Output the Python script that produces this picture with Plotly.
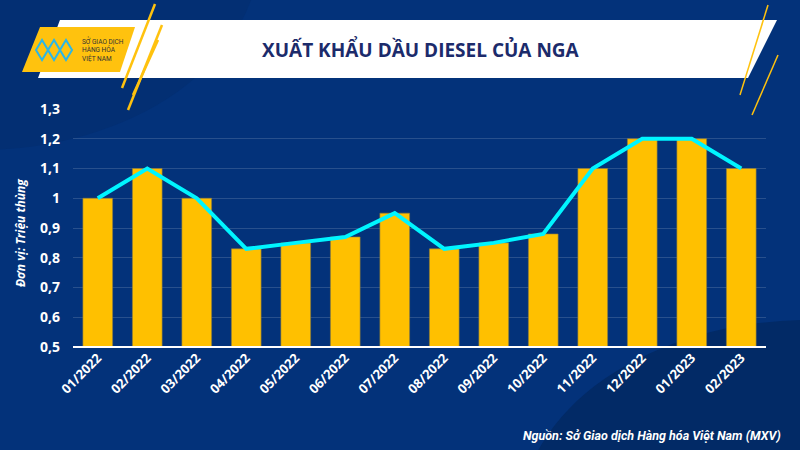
import plotly.graph_objects as go

# du lieu
thang = ["01/2022", "02/2022", "03/2022", "04/2022", "05/2022", "06/2022", "07/2022",
         "08/2022", "09/2022", "10/2022", "11/2022", "12/2022", "01/2023", "02/2023"]
xuat_khau = [1.0, 1.1, 1.0, 0.83, 0.85, 0.87, 0.95, 0.83, 0.85, 0.88, 1.1, 1.2, 1.2, 1.1]
y_ticks = [0.5, 0.6, 0.7, 0.8, 0.9, 1.0, 1.1, 1.2, 1.3]

W, H = 800, 450
L, R, T, B = 73, 34, 109, 103


def px_x(x):
    return (x - L) / (W - L - R)


def px_y(y):
    return 1 - (y - T) / (H - T - B)


def poly(points):
    path = "M " + " L ".join(f"{px_x(a):.4f},{px_y(b):.4f}" for a, b in points) + " Z"
    return path


fig = go.Figure()
fig.add_trace(go.Bar(x=thang, y=xuat_khau, marker=dict(color="#FFC000", line=dict(color="#8a7a40", width=0.6)),
                     showlegend=False, hoverinfo="skip"))
fig.add_trace(go.Scatter(x=thang, y=xuat_khau, mode="lines", line=dict(color="#00F5FF", width=4),
                         showlegend=False))

shapes = []
# nen trang tri
shapes.append(dict(type="circle", xref="paper", yref="paper", layer="below",
                   x0=px_x(520), x1=px_x(1100), y0=px_y(720), y1=px_y(320),
                   fillcolor="#022a66", line=dict(width=0)))
shapes.append(dict(type="circle", xref="paper", yref="paper", layer="below",
                   x0=px_x(-300), x1=px_x(260), y0=px_y(150), y1=px_y(-250),
                   fillcolor="#032f73", line=dict(width=0)))
# banner trang
shapes.append(dict(type="path", xref="paper", yref="paper", path=poly([(38, 78), (60, 20), (777, 20), (748, 78)]),
                   fillcolor="white", line=dict(width=0)))
# o logo vang
shapes.append(dict(type="path", xref="paper", yref="paper", path=poly([(22, 72), (40, 27), (135, 27), (120, 72)]),
                   fillcolor="#FFC20E", line=dict(width=0)))
# cac vach vang
for (a, b) in [((155, 4), (122, 88)), ((162, 25), (128, 110)), ((158, 40), (133, 95))]:
    shapes.append(dict(type="line", xref="paper", yref="paper", x0=px_x(a[0]), y0=px_y(a[1]),
                       x1=px_x(b[0]), y1=px_y(b[1]), line=dict(color="#FFC20E", width=2.5)))
for (a, b) in [((768, 5), (740, 95)), ((778, 55), (752, 115))]:
    shapes.append(dict(type="line", xref="paper", yref="paper", x0=px_x(a[0]), y0=px_y(a[1]),
                       x1=px_x(b[0]), y1=px_y(b[1]), line=dict(color="#FFC20E", width=1.5)))
# logo bieu tuong
for i in range(3):
    shapes.append(dict(type="path", xref="paper", yref="paper",
                       path=poly([(36 + i * 12, 50), (42 + i * 12, 40), (48 + i * 12, 50), (42 + i * 12, 60)]),
                       fillcolor="rgba(0,0,0,0)", line=dict(color="#2ab6e8", width=2)))
# duong truc 0,5
shapes.append(dict(type="line", xref="paper", yref="paper", x0=0, x1=1, y0=0, y1=0,
                   line=dict(color="white", width=2)))

annotations = [
    dict(text="<b>XUẤT KHẨU DẦU DIESEL CỦA NGA</b>", x=px_x(421), y=px_y(49),
         font=dict(family="Open Sans", size=19, color="#1c2b6b")),
    dict(text="SỞ GIAO DỊCH<br>HÀNG HÓA<br>VIỆT NAM", x=px_x(80), y=px_y(49), xanchor="left", align="left",
         font=dict(family="Roboto", size=6.5, color="#333")),
    dict(text="<b><i>Đơn vị: Triệu thùng</i></b>", x=px_x(20), y=px_y(233), textangle=-90,
         font=dict(family="Open Sans", size=12, color="white")),
    dict(text="<b><i>Nguồn: Sở Giao dịch Hàng hóa Việt Nam (MXV)</i></b>", x=px_x(783), y=px_y(435),
         xanchor="right", font=dict(family="Roboto", size=12.5, color="white")),
]
for a in annotations:
    a.update(xref="paper", yref="paper", showarrow=False, yanchor="middle")
    a.setdefault("xanchor", "center")

fig.update_layout(
    width=W, height=H,
    margin=dict(l=L, r=R, t=T, b=B),
    paper_bgcolor="#03327a",
    plot_bgcolor="rgba(0,0,0,0)",
    separators=",.",
    bargap=0.4,
    shapes=shapes,
    annotations=annotations,
    xaxis=dict(tickangle=-45, tickfont=dict(family="Open Sans", size=13, color="white", weight="bold"),
               showgrid=False, ticks="", showline=False),
    yaxis=dict(range=[0.5, 1.3], tickvals=y_ticks, tickfont=dict(family="Open Sans", size=14, color="white", weight="bold"),
               gridcolor="rgba(255,255,255,0.15)", gridwidth=1, zeroline=False, ticks="", ticklabelstandoff=12),
)

fig.write_html("out.html", config={"displayModeBar": False},
               post_script="document.body.style.margin='0';")
